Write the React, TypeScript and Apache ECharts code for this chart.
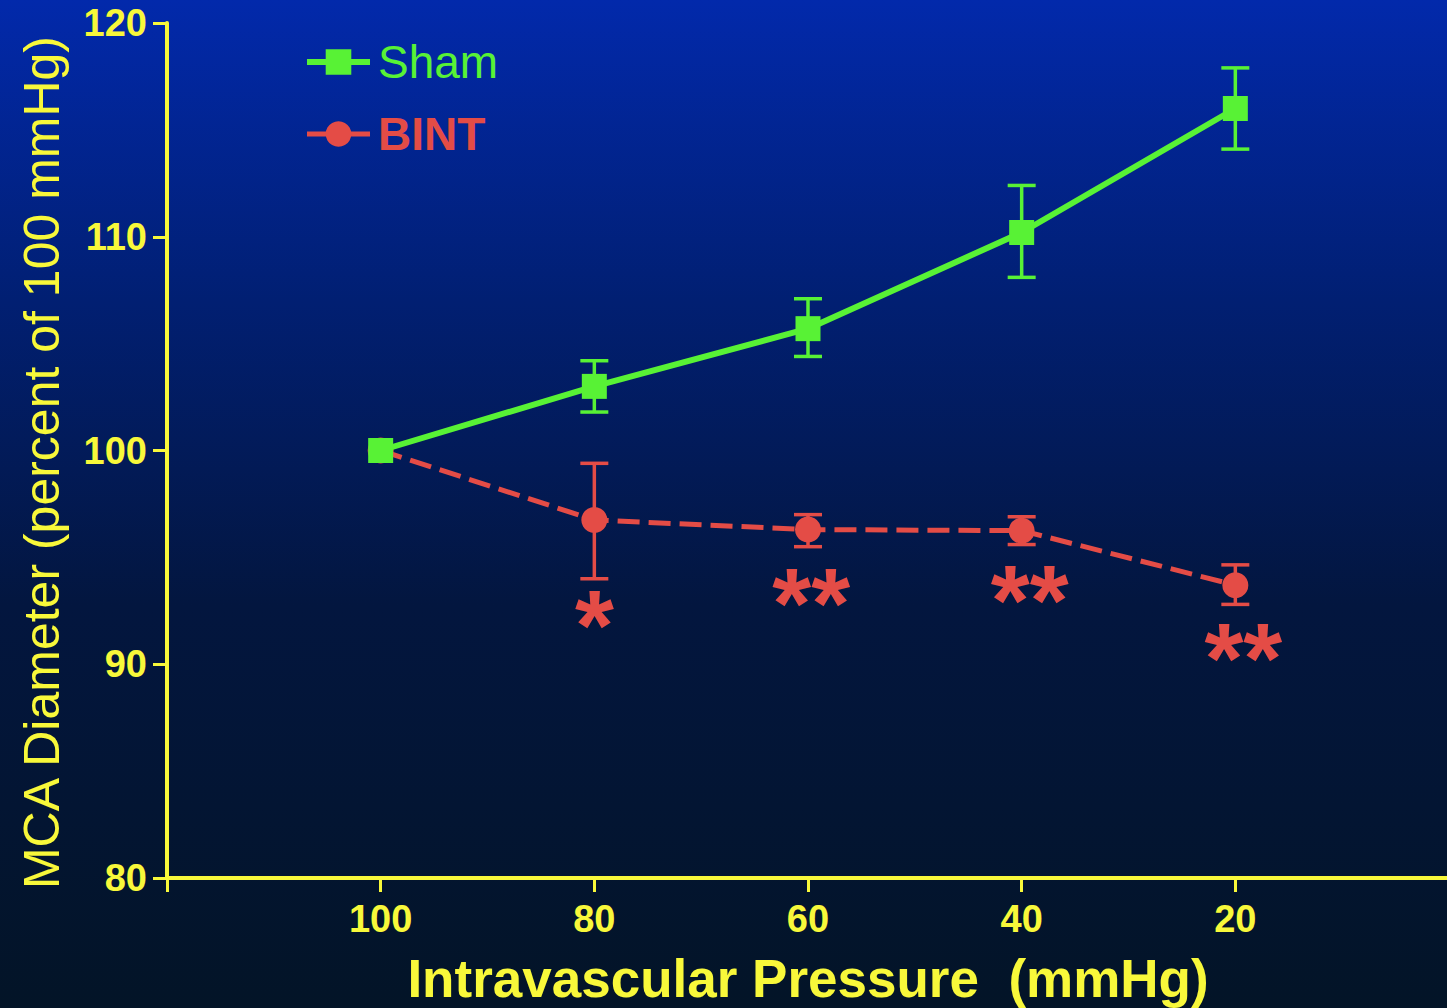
import React, { useEffect, useRef } from "react";
import * as echarts from "echarts";

const pressures = [100, 80, 60, 40, 20];
const shamMean = [100, 103.0, 105.7, 110.2, 116.0];
const shamLow = [100, 101.8, 104.4, 108.1, 114.1];
const shamHigh = [100, 104.2, 107.1, 112.4, 117.9];
const bintMean = [100, 96.75, 96.3, 96.25, 93.7];
const bintLow = [100, 94.0, 95.5, 95.6, 92.8];
const bintHigh = [100, 99.4, 97.0, 96.9, 94.65];
const sigX = [80, 59.7, 39.25, 19.25];
const sigMarks = ["*", "**", "**", "**"];
const sigY = [92.45, 93.47, 93.6, 90.9];
const yTicks = [80, 90, 100, 110, 120];

const YELLOW = "#F8F83A";
const GREEN = "#58F235";
const RED = "#E44C46";

function errorSeries(name: string, low: number[], high: number[], color: string, z: number) {
  return {
    type: "custom",
    name: name + "_err",
    data: pressures.map((p, i) => [p, low[i], high[i]]),
    z,
    renderItem: (params: any, api: any) => {
      const x = api.value(0);
      const lo = api.value(1);
      const hi = api.value(2);
      if (lo === hi) return { type: "group", children: [] };
      const pLo = api.coord([x, lo]);
      const pHi = api.coord([x, hi]);
      const w = 14;
      const st = { stroke: color, lineWidth: 3.5 };
      return {
        type: "group",
        children: [
          { type: "line", shape: { x1: pLo[0], y1: pLo[1], x2: pHi[0], y2: pHi[1] }, style: st },
          { type: "line", shape: { x1: pLo[0] - w, y1: pLo[1], x2: pLo[0] + w, y2: pLo[1] }, style: st },
          { type: "line", shape: { x1: pHi[0] - w, y1: pHi[1], x2: pHi[0] + w, y2: pHi[1] }, style: st },
        ],
      };
    },
  };
}

export default function App() {
  const ref = useRef<HTMLDivElement>(null);
  useEffect(() => {
    if (!ref.current) return;
    const chart = echarts.init(ref.current, null, { renderer: "svg" });
    chart.setOption({
      animation: false,
      backgroundColor: new echarts.graphic.LinearGradient(0, 0, 0, 1, [
        { offset: 0, color: "#0229AB" },
        { offset: 0.3, color: "#011F72" },
        { offset: 0.6, color: "#03163F" },
        { offset: 1, color: "#031427" },
      ]),
      grid: { left: 167, right: -2, top: 23, bottom: 130, containLabel: false, outerBoundsMode: "none" },
      legend: {
        orient: "vertical",
        left: 304,
        top: 39,
        padding: 0,
        itemWidth: 63,
        itemHeight: 32,
        itemGap: 26,
        data: [
          {
            name: "Sham",
            lineStyle: { width: 6, type: "solid" },
            textStyle: { color: GREEN, fontSize: 46, fontWeight: "normal", fontFamily: "Liberation Sans" },
          },
          {
            name: "BINT",
            lineStyle: { width: 5, type: "solid" },
            textStyle: { color: RED, fontSize: 46, fontWeight: "bold", fontFamily: "Liberation Sans" },
          },
        ],
        textStyle: { padding: [0, 0, 0, 3] },
      },
      xAxis: {
        type: "value",
        inverse: true,
        min: 0,
        max: 120,
        interval: 20,
        name: "Intravascular Pressure  (mmHg)",
        nameLocation: "middle",
        nameGap: 74,
        nameTextStyle: { color: YELLOW, fontSize: 53, fontWeight: "bold", fontFamily: "Liberation Sans" },
        axisLine: { show: true, onZero: false, lineStyle: { color: YELLOW, width: 4 } },
        axisTick: { show: true, length: 14, lineStyle: { color: YELLOW, width: 3 } },
        axisLabel: {
          color: YELLOW,
          fontSize: 38,
          fontWeight: "bold",
          fontFamily: "Liberation Sans",
          margin: 22,
          formatter: (v: number) => (v === 0 || v === 120 ? "" : String(v)),
        },
        splitLine: { show: false },
      },
      yAxis: {
        type: "value",
        position: "left",
        min: yTicks[0],
        max: yTicks[yTicks.length - 1],
        interval: 10,
        name: "MCA Diameter (percent of 100 mmHg)",
        nameLocation: "middle",
        nameGap: 100,
        nameTextStyle: { color: YELLOW, fontSize: 50, fontWeight: "normal", fontFamily: "Liberation Sans", padding: [0, 24, 0, 0] },
        axisLine: { show: true, onZero: false, lineStyle: { color: YELLOW, width: 4 } },
        axisTick: { show: true, length: 14, lineStyle: { color: YELLOW, width: 3 } },
        axisLabel: { color: YELLOW, fontSize: 38, fontWeight: "bold", fontFamily: "Liberation Sans", margin: 20 },
        splitLine: { show: false },
      },
      series: [
        errorSeries("Sham", shamLow, shamHigh, GREEN, 5),
        errorSeries("BINT", bintLow, bintHigh, RED, 3),
        {
          name: "BINT",
          type: "line",
          data: pressures.map((p, i) => [p, bintMean[i]]),
          symbol: "circle",
          symbolSize: 26,
          lineStyle: { color: RED, width: 5, type: [22, 9] },
          itemStyle: { color: RED },
          z: 4,
        },
        {
          name: "Sham",
          type: "line",
          data: pressures.map((p, i) => [p, shamMean[i]]),
          symbol: "rect",
          symbolSize: 25,
          lineStyle: { color: GREEN, width: 6 },
          itemStyle: { color: GREEN },
          z: 6,
        },
        {
          name: "sig",
          type: "custom",
          data: sigX.map((p, i) => [p, sigY[i]]),
          silent: true,
          z: 7,
          renderItem: (params: any, api: any) => {
            const pt = api.coord([api.value(0), api.value(1)]);
            return {
              type: "text",
              x: pt[0],
              y: pt[1] + 13,
              style: {
                text: sigMarks[params.dataIndex],
                fill: RED,
                fontSize: 100,
                fontWeight: "bold",
                fontFamily: "Liberation Sans",
                align: "center",
                verticalAlign: "middle",
              },
            };
          },
        },
      ],
    });
    return () => chart.dispose();
  }, []);
  return (
    <div
      ref={ref}
      style={{ position: "fixed", left: 0, top: 0, width: 1447, height: 1008 }}
    />
  );
}
